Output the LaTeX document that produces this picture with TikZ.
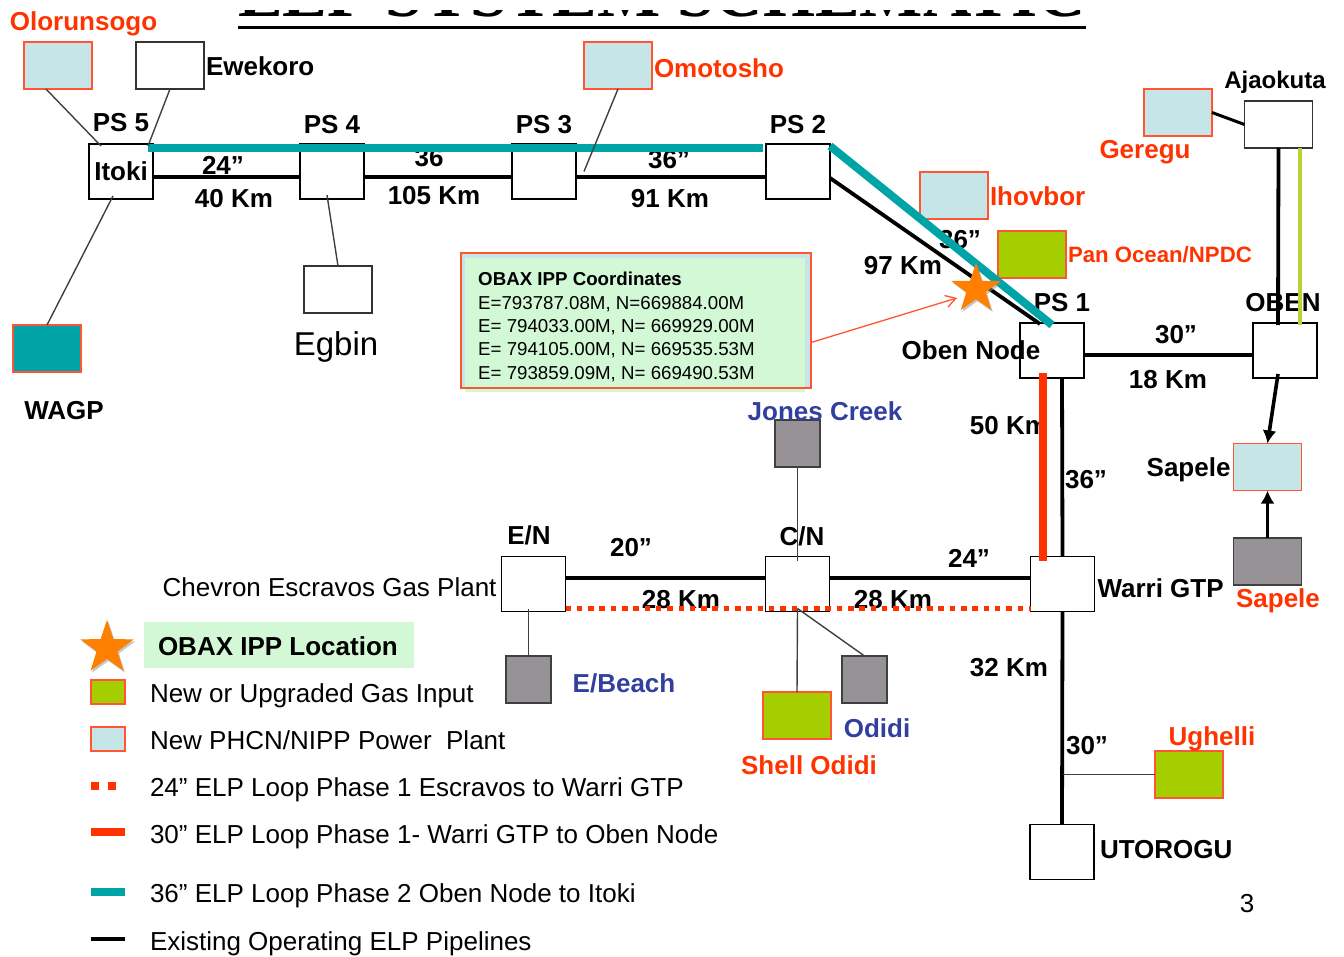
\documentclass[tikz,border=0pt]{standalone}
\usepackage{fontspec}
\setmainfont{Liberation Sans}
\newfontfamily\titlefont{Liberation Serif}
\usepackage{xcolor}
\usepackage{tikz}
\usetikzlibrary{positioning,arrows.meta,shapes.geometric,shadows}
\definecolor{elpTeal}{HTML}{00A3A6}
\definecolor{elpRed}{HTML}{FF3300}
\definecolor{elpEdge}{HTML}{FF5533}
\definecolor{elpPlant}{HTML}{C5E5E6}
\definecolor{elpGas}{HTML}{A5CE00}
\definecolor{elpGray}{HTML}{969296}
\definecolor{elpMint}{HTML}{D3F8D6}
\definecolor{elpOrange}{HTML}{FF8000}
\definecolor{elpBlue}{HTML}{333F9E}
\definecolor{elpLime}{HTML}{B5D334}
\newcommand{\fsize}[1]{\fontsize{#1}{#1}\selectfont}
\tikzset{
  stationbox/.style={draw=black,fill=white,line width=1.8pt,inner sep=0pt,outer sep=0pt,
    minimum width=64pt,minimum height=55pt},
  emptybox/.style={draw=black!80,fill=white,line width=1.5pt,inner sep=0pt,outer sep=0pt,
    minimum width=68pt,minimum height=47pt},
  plantbox/.style={draw=elpEdge,fill=elpPlant,line width=1.5pt,inner sep=0pt,outer sep=0pt,
    minimum width=68pt,minimum height=47pt},
  gasbox/.style={draw=elpEdge,fill=elpGas,line width=1.5pt,inner sep=0pt,outer sep=0pt,
    minimum width=68pt,minimum height=47pt},
  graybox/.style={draw=black!75,fill=elpGray,line width=1.5pt,inner sep=0pt,outer sep=0pt,
    minimum width=45pt,minimum height=47pt},
  txt/.style={inner sep=0pt,outer sep=0pt,font=\fsize{26}},
  boldtxt/.style={inner sep=0pt,outer sep=0pt,font=\fsize{26}\bfseries},
  redtxt/.style={boldtxt,text=elpRed},
  bluetxt/.style={boldtxt,text=elpBlue},
  legtxt/.style={txt,anchor=west,text height=19pt,text depth=5.5pt},
  pipe/.style={draw=black,line width=3.8pt},
  tealpipe/.style={draw=elpTeal,line width=8pt},
  redpipe/.style={draw=elpRed,line width=8pt},
  dotpipe/.style={draw=elpRed,line width=5pt,dash pattern=on 5.5pt off 5.8pt},
  tieline/.style={draw=black!75,line width=1.4pt},
  feedarrow/.style={-{Latex[length=13pt,width=14pt]},draw=black,line width=3.6pt},
  obaxstar/.style={star,star points=5,star point ratio=2.55,fill=elpOrange,inner sep=0pt,
    drop shadow={shadow xshift=1.5pt,shadow yshift=-2pt,fill=black!45,opacity=0.5}}
}
\begin{document}
\begin{tikzpicture}[x=1pt,y=-1pt]
  \useasboundingbox (0,0) rectangle (1344,957);

  \node[anchor=base west,inner sep=0pt,font=\fsize{67}\titlefont\bfseries] (schematic) at (238,17) {ELP SYSTEM SCHEMATIC};
  \fill[white] (0,-2) rectangle (1344,10.5);

  \node[stationbox,font=\fsize{26}\bfseries] (itoki) at (121,171.5) {\raisebox{-2pt}{Itoki}};
  \node[stationbox,right=147pt of itoki] (psfour) {};
  \node[stationbox,right=148pt of psfour] (psthree) {};
  \node[stationbox,right=190pt of psthree] (pstwo) {};
  \node[stationbox] (psone) at (1052,350.5) {};
  \node[stationbox,right=169pt of psone] (oben) {};
  \node[stationbox] (warri) at (1062.5,584) {};
  \node[stationbox,left=201pt of warri] (cnode) {};
  \node[stationbox,left=200pt of cnode] (enode) {};
  \node[stationbox] (utorogu) at (1062,852) {};

  \node[plantbox] (olorunsogo) at (58,65.5) {};
  \node[emptybox] (ewekoro) at (170,65.5) {};
  \node[plantbox] (omotosho) at (618,65.5) {};
  \node[emptybox] (egbin) at (338,289.5) {};
  \node[plantbox,fill=elpTeal] (wagp) at (47,348.5) {};
  \node[plantbox] (ihovbor) at (954,195.5) {};
  \node[gasbox] (panocean) at (1032,254.5) {};
  \node[plantbox] (geregu) at (1178,112.5) {};
  \node[emptybox] (ajaokuta) at (1278.5,124.5) {};
  \node[plantbox] (sapeleplant) at (1267.5,467) {};
  \node[graybox,minimum width=68pt] (sapelegas) at (1267.5,561.5) {};
  \node[graybox] (jones) at (797.5,443.5) {};
  \node[graybox] (ebeach) at (528.5,679.5) {};
  \node[graybox] (odidi) at (864.5,679.5) {};
  \node[gasbox] (shell) at (797,715.5) {};
  \node[gasbox] (ughelli) at (1189,774.5) {};

  \node[inner sep=0pt,minimum width=350pt,minimum height=135pt,fill=elpPlant] (coordback) at (636,320.5) {};
  \node[inner sep=0pt,minimum width=340pt,minimum height=134pt,fill=elpMint] (coordmint) at (635,325) {};
  \node[draw=elpEdge,line width=1.6pt,inner sep=0pt,outer sep=0pt,minimum width=350pt,minimum height=135pt] (coordbox) at (636,320.5) {};
  \node[inner sep=0pt,anchor=west,align=left,font=\fontsize{18.7}{23.4}\selectfont] (coordtxt) at (478,327)
    {\textbf{OBAX IPP Coordinates}\\E=793787.08M, N=669884.00M\\E= 794033.00M, N= 669929.00M\\E= 794105.00M, N= 669535.53M\\E= 793859.09M, N= 669490.53M};

  \node[redtxt] (olorunsogotxt) at (83.5,24) {Olorunsogo};
  \node[boldtxt,right=2pt of ewekoro,yshift=-1pt] (ewekorotxt) {Ewekoro};
  \node[redtxt,right=2pt of omotosho,yshift=-3pt] (omotoshotxt) {Omotosho};
  \node[boldtxt,above=12pt of itoki] (psfivetxt) {PS 5};
  \node[boldtxt,above=10pt of psfour] (psfourtxt) {PS 4};
  \node[boldtxt,above=10pt of psthree] (psthreetxt) {PS 3};
  \node[boldtxt,above=10pt of pstwo] (pstwotxt) {PS 2};
  \node[boldtxt] (dia24) at (223,165) {24”};
  \node[boldtxt] (km40) at (234,199) {40 Km};
  \node[boldtxt] (dia36a) at (429,158) {36};
  \node[boldtxt] (km105) at (434,196) {105 Km};
  \node[boldtxt] (dia36b) at (669,160) {36”};
  \node[boldtxt] (km91) at (670,199) {91 Km};
  \node[txt,font=\fsize{33}] (egbintxt) at (336,347) {Egbin};
  \node[boldtxt] (wagptxt) at (64,411) {WAGP};
  \node[redtxt,right=2pt of ihovbor,yshift=-1pt] (ihovbortxt) {Ihovbor};
  \node[redtxt,font=\fsize{22.2}\bfseries,right=2pt of panocean] (panoceantxt) {Pan Ocean/NPDC};
  \node[boldtxt] (km97) at (903,266) {97 Km};
  \node[boldtxt] (dia36c) at (960,240) {36”};
  \node[redtxt] (geregutxt) at (1145,152) {Geregu};
  \node[boldtxt,font=\fsize{24}\bfseries] (ajaokutatxt) at (1275,82) {Ajaokuta};
  \node[boldtxt] (obentxt) at (1283,303) {OBEN};
  \node[boldtxt] (psonetxt) at (1062,303) {PS 1};
  \node[boldtxt] (obennode) at (971,350) {Oben Node};
  \node[boldtxt] (dia30a) at (1176,335) {30”};
  \node[boldtxt] (km18) at (1168,380) {18 Km};
  \node[boldtxt,left=3pt of sapeleplant,yshift=-3pt] (sapeletxt) {Sapele};
  \node[redtxt] (sapeleredtxt) at (1278,601) {Sapele};
  \node[boldtxt] (dia36d) at (1086,480) {36”};
  \node[boldtxt] (km50) at (1009,426) {50 Km};
  \node[boldtxt,right=3pt of warri,yshift=-4pt] (warritxt) {Warri GTP};
  \node[boldtxt] (km32) at (1009,668) {32 Km};
  \node[boldtxt] (dia30b) at (1087,746) {30”};
  \node[redtxt] (ughellitxt) at (1212,739) {Ughelli};
  \node[boldtxt,right=6pt of utorogu,yshift=2pt] (utorogutxt) {UTOROGU};
  \node[txt] (pagenum) at (1247,904) {3};
  \node[bluetxt] (jonestxt) at (825,411) {Jones Creek};
  \node[boldtxt] (entxt) at (529,535) {E/N};
  \node[boldtxt] (cntxt) at (802,536) {C/N};
  \node[boldtxt] (dia20) at (631,548) {20”};
  \node[boldtxt] (dia24b) at (969,558) {24”};
  \node[boldtxt] (km28a) at (681,600) {28 Km};
  \node[boldtxt] (km28b) at (893,600) {28 Km};
  \node[txt,left=5pt of enode,yshift=-3pt] (chevron) {Chevron Escravos Gas Plant};
  \node[bluetxt] (ebeachtxt) at (624,683) {E/Beach};
  \node[bluetxt] (odiditxt) at (877,728) {Odidi};
  \node[redtxt] (shelltxt) at (809,765) {Shell Odidi};

  \node[fill=elpMint,inner sep=0pt,minimum width=270pt,minimum height=46pt] (legmint) at (279,645) {};
  \node[boldtxt,anchor=west] (legobax) at (158,646) {OBAX IPP Location};
  \node[legtxt] (leggas) at (150,695.6) {New or Upgraded Gas Input};
  \node[legtxt] (legplant) at (150,742.6) {New PHCN/NIPP Power\ \ Plant};
  \node[legtxt] (legdots) at (150,789.6) {24” ELP Loop Phase 1 Escravos to Warri GTP};
  \node[legtxt] (legred) at (150,836.6) {30” ELP Loop Phase 1- Warri GTP to Oben Node};
  \node[legtxt] (legteal) at (150,895.6) {36” ELP Loop Phase 2 Oben Node to Itoki};
  \node[legtxt] (legblack) at (150,943.6) {Existing Operating ELP Pipelines};
  \node[gasbox,minimum width=34pt,minimum height=24pt,left=25pt of leggas,yshift=3.6pt] (legbox) {};
  \node[plantbox,minimum width=34pt,minimum height=24pt,left=25pt of legplant,yshift=3.6pt] (legbox2) {};

  \draw[draw=black,line width=2.5pt] ([yshift=-10.5pt]schematic.base west) -- ([yshift=-10.5pt]schematic.base east);

  \draw[pipe] ([yshift=-5.5pt]itoki.east) -- ([yshift=-5.5pt]psfour.west);
  \draw[pipe] ([yshift=-5.5pt]psfour.east) -- ([yshift=-5.5pt]psthree.west);
  \draw[pipe] ([yshift=-5.5pt]psthree.east) -- ([yshift=-5.5pt]pstwo.west);
  \draw[pipe] ([yshift=-6.5pt]pstwo.east) -- ([xshift=-12pt,yshift=-1pt]psone.north);
  \draw[pipe] ([yshift=-4.5pt]psone.east) -- ([yshift=-4.5pt]oben.west);
  \draw[pipe] ([xshift=10pt]psone.south) -- (warri.north);
  \draw[pipe] ([yshift=6pt]enode.east) -- ([yshift=6pt]cnode.west);
  \draw[pipe] ([yshift=6pt]cnode.east) -- ([yshift=6pt]warri.west);
  \draw[pipe] (warri.south) -- (utorogu.north);
  \draw[pipe] (ajaokuta.south) -- ([xshift=-7pt,yshift=-2pt]oben.north);
  \draw[draw=elpLime,line width=3.8pt] ([xshift=21.5pt]ajaokuta.south) -- ([xshift=15pt,yshift=-2pt]oben.north);
  \draw[draw=black,line width=3pt] (geregu.east) -- (ajaokuta.west);
  \draw[feedarrow] ([xshift=-7pt,yshift=4pt]oben.south) -- (sapeleplant.north);
  \draw[feedarrow] (sapelegas.north) -- (sapeleplant.south);

  \draw[tealpipe] ([xshift=-5pt,yshift=-4pt]itoki.north east) -- ([xshift=-3pt,yshift=-4pt]pstwo.north west);
  \draw[tealpipe] ([yshift=-2pt]pstwo.north east) -- ([yshift=-2pt]psone.north);
  \draw[redpipe] ([xshift=-9pt,yshift=5pt]psone.south) -- ([xshift=-19.5pt,yshift=-4pt]warri.north);
  \draw[dotpipe] ([yshift=3.5pt]enode.south east) -- ([yshift=3.5pt]warri.south west);

  \draw[tieline] ([xshift=-12pt]olorunsogo.south) -- ([xshift=-20pt,yshift=-2pt]itoki.north);
  \draw[tieline] (ewekoro.south) -- ([xshift=27pt,yshift=-2pt]itoki.north);
  \draw[tieline] ([xshift=-8pt,yshift=3pt]itoki.south) -- (wagp.north);
  \draw[tieline] ([xshift=-5pt,yshift=4pt]psfour.south) -- (egbin.north);
  \draw[tieline] (omotosho.south) -- ([xshift=40pt]psthree.center);
  \draw[tieline] (jones.south) -- ([yshift=-4pt]cnode.north);
  \draw[tieline] ([xshift=-5pt,yshift=3pt]enode.south) -- (ebeach.north);
  \draw[tieline] ([yshift=3pt]cnode.south) -- (shell.north);
  \draw[tieline] ([yshift=3pt]cnode.south) -- (odidi.north);
  \draw[tieline] (ughelli.west) -- (ughelli.west -| warri.south);

  \node[obaxstar,minimum size=52pt] (ippstar) at (976,289) {};
  \node[obaxstar,minimum size=56pt] (legstar) at (107,648) {};
  \draw[-{Straight Barb[length=10pt,width=12pt]},draw=elpEdge,line width=1.3pt] ([yshift=-22pt]coordbox.east) -- ([xshift=-19pt,yshift=-9pt]ippstar.center);

  \draw[dotpipe,line width=8pt,dash pattern=on 8pt off 9pt] ([xshift=-59pt,yshift=3.6pt]legdots.west) -- ([xshift=-32pt,yshift=3.6pt]legdots.west);
  \draw[redpipe] ([xshift=-59pt,yshift=4.6pt]legred.west) -- ([xshift=-25pt,yshift=4.6pt]legred.west);
  \draw[tealpipe] ([xshift=-59pt,yshift=3.6pt]legteal.west) -- ([xshift=-25pt,yshift=3.6pt]legteal.west);
  \draw[pipe] ([xshift=-59pt,yshift=4.6pt]legblack.west) -- ([xshift=-25pt,yshift=4.6pt]legblack.west);
\end{tikzpicture}
\end{document}
